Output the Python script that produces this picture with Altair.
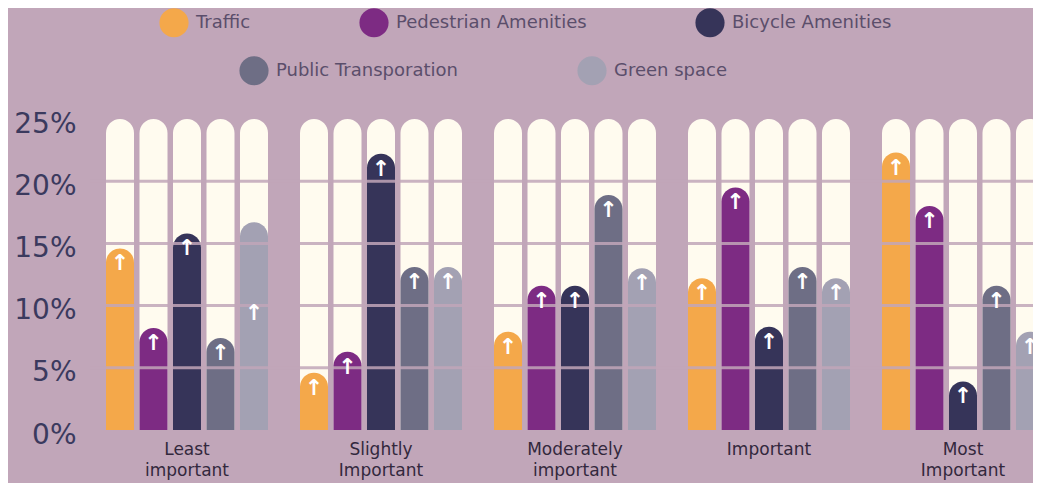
import altair as alt
import pandas as pd

# ---- data ----
groups = ["Least|important", "Slightly|Important", "Moderately|important", "Important", "Most|Important"]
series = ["Traffic", "Pedestrian Amenities", "Bicycle Amenities", "Public Transporation", "Green space"]
traffic = [14.6, 4.6, 7.9, 12.2, 22.3]
pedestrian = [8.2, 6.3, 11.6, 19.5, 18.0]
bicycle = [15.8, 22.2, 11.6, 8.3, 3.9]
public_transport = [7.4, 13.1, 18.9, 13.1, 11.6]
green_space = [16.7, 13.1, 13.0, 12.2, 7.9]
# arrow level (same as value, except the misplaced arrow on green space / least important)
green_space_arrow = [10.6, 13.1, 13.0, 12.2, 7.9]
y_ticks = [0, 5, 10, 15, 20, 25]
grid_levels = [5, 10, 15, 20]
y_max = 25

colors = ["#f4a84a", "#7d2b83", "#363459", "#6e6e85", "#a3a1b3"]
bg = "#c1a6b9"
cream = "#fffbef"

vals = [traffic, pedestrian, bicycle, public_transport, green_space]
arrows = [traffic, pedestrian, bicycle, public_transport, green_space_arrow]
rows = []
for gi, g in enumerate(groups):
    for si, s in enumerate(series):
        rows.append({"group": g, "series": s, "value": vals[si][gi],
                     "arrow": arrows[si][gi], "top": y_max})
df = pd.DataFrame(rows)

X = alt.X("group:N", sort=groups,
          scale=alt.Scale(domain=groups, paddingInner=0.165, paddingOuter=0.0825, range=[0, 970]),
          axis=alt.Axis(title=None, labelExpr="split(datum.label, '|')", labelFontSize=17,
                        labelFont="DejaVu Sans", labelColor="#33283d", labelPadding=11,
                        labelLineHeight=21, domain=False, ticks=False, labelAngle=0))
XO = alt.XOffset("series:N", sort=series,
                 scale=alt.Scale(domain=series, paddingInner=0.164, paddingOuter=0))
yscale = alt.Scale(domain=[0, y_max], nice=False)

track = alt.Chart(df).mark_bar(color=cream, cornerRadiusTopLeft=14, cornerRadiusTopRight=14).encode(
    x=X, xOffset=XO,
    y=alt.Y("top:Q", stack=None, scale=yscale,
            axis=alt.Axis(values=y_ticks, labelExpr="datum.value + '%'", title=None, domain=False,
                          ticks=False, grid=False, labelFontSize=28, labelFont="DejaVu Sans",
                          labelColor="#3b3a5e", labelPadding=14, labelOffset=5)),
)

def value_layer(names, cols, lx, ly, colpad):
    return alt.Chart(df).transform_filter(
        alt.FieldOneOfPredicate(field="series", oneOf=names)
    ).mark_bar(cornerRadiusTopLeft=14, cornerRadiusTopRight=14).encode(
        x=X, xOffset=XO,
        y=alt.Y("value:Q", stack=None, scale=yscale),
        color=alt.Color("series:N", sort=names,
                        scale=alt.Scale(domain=names, range=cols),
                        legend=alt.Legend(orient="none", legendX=lx, legendY=ly, direction="horizontal",
                                          columns=len(names), title=None, symbolType="circle",
                                          symbolSize=850, symbolStrokeWidth=0, symbolOpacity=1,
                                          labelFontSize=18, labelFont="DejaVu Sans",
                                          labelColor="#5b4e6b", labelOffset=7, labelLimit=0,
                                          columnPadding=colpad, padding=0)),
    )

bars1 = value_layer(series[:3], colors[:3], 69, -111.5, 108)
bars2 = value_layer(series[3:], colors[3:], 149, -63.5, 119)

grid = alt.Chart(pd.DataFrame({"g": grid_levels})).mark_rule(
    color=bg, strokeWidth=3, opacity=0.85).encode(y=alt.Y("g:Q", scale=yscale))

arrow_marks = alt.Chart(df).mark_text(text="↑", color="#ffffff", fontSize=22, fontWeight="bold", dy=15,
                                      baseline="middle", font="DejaVu Sans").encode(
    x=X, xOffset=XO, y=alt.Y("arrow:Q", scale=yscale))

chart = alt.layer(track, bars1, bars2, grid, arrow_marks).resolve_scale(
    color="independent"
).properties(
    width=943, height=311, background=bg,
    padding={"left": 82, "top": 111, "right": 0, "bottom": 53},
    autosize=alt.AutoSizeParams(type="none"),
).configure_view(stroke=None)

chart.save("out.html", embed_options={"renderer": "svg", "actions": False})
